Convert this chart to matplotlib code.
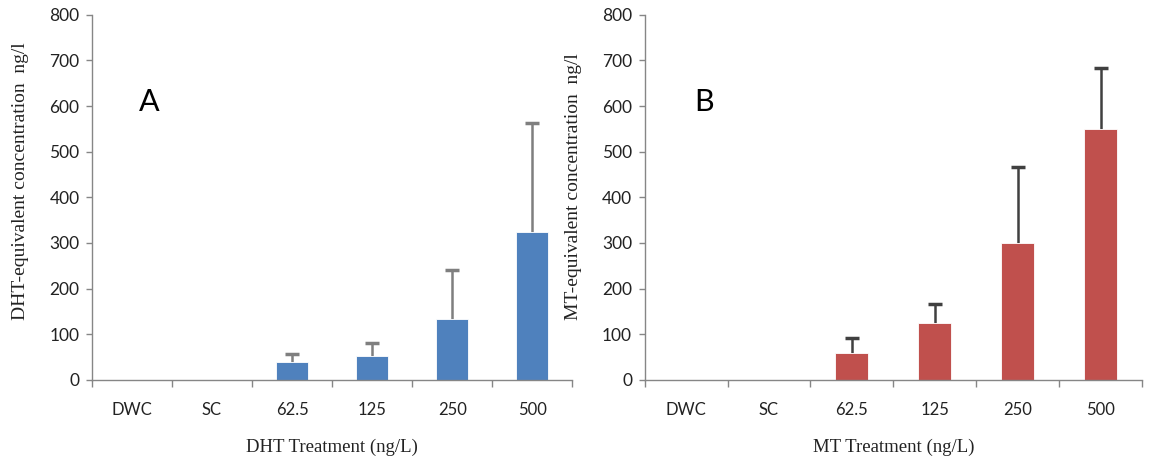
import matplotlib.pyplot as plt
import numpy as np

# treatment groups on the x axis
groups = ['DWC', 'SC', '62.5', '125', '250', '500']

# panel A: DHT-equivalent concentration (mean and upper SD)
dht_mean = [0, 0, 39, 53, 134, 325]
dht_sd = [0, 0, 18, 27, 107, 237]

# panel B: MT-equivalent concentration (mean and upper SD)
mt_mean = [0, 0, 59, 125, 300, 550]
mt_sd = [0, 0, 33, 41, 167, 134]

tick_font = ['Lato', 'DejaVu Sans']
label_font = ['Liberation Serif', 'DejaVu Serif']
axis_grey = '#868686'

fig = plt.figure(figsize=(11.49, 4.61), dpi=100)
ax_a = fig.add_axes([0.080, 0.176, 0.418, 0.792])
ax_b = fig.add_axes([0.561, 0.176, 0.433, 0.792])


def draw_panel(ax, mean, sd, color, err_color, letter, xlabel, ylabel):
    x = np.arange(len(groups))
    mean = np.array(mean, dtype=float)
    sd = np.array(sd, dtype=float)
    ax.bar(x, mean, width=0.4, color=color, edgecolor='white', linewidth=0.6, zorder=2)
    m = mean > 0
    eb = ax.errorbar(x[m], mean[m], yerr=[np.zeros(m.sum()), sd[m]], fmt='none',
                     ecolor=err_color, elinewidth=1.8, capsize=5, capthick=2.5, zorder=1)
    # only the upper cap is shown
    eb[1][0].set_visible(False)

    ax.set_xlim(-0.5, len(groups) - 0.5)
    ax.set_ylim(0, 800)
    ax.set_yticks(range(0, 801, 100))
    ax.set_xticks(x)
    ax.set_xticklabels(groups, family=tick_font, fontsize=12, color='#222222')
    ax.set_xticks(np.arange(-0.5, len(groups), 1), minor=True)
    ax.tick_params(axis='x', which='major', length=0, pad=16)
    ax.tick_params(axis='x', which='minor', length=5, color=axis_grey, width=1)
    ax.tick_params(axis='y', length=4, color=axis_grey, width=1, pad=5)
    for lab in ax.get_yticklabels():
        lab.set_family(tick_font)
        lab.set_fontsize(12.5)
        lab.set_color('#222222')

    for s in ['top', 'right']:
        ax.spines[s].set_visible(False)
    for s in ['left', 'bottom']:
        ax.spines[s].set_color(axis_grey)
        ax.spines[s].set_linewidth(1)

    ax.set_xlabel(xlabel, family=label_font, fontsize=13.5, labelpad=15, color='#222222')
    ax.set_ylabel(ylabel, family=label_font, fontsize=14, color='#222222')
    ax.text(0.12, 0.76, letter, transform=ax.transAxes, family=tick_font,
            fontsize=22, ha='center', va='center')


draw_panel(ax_a, dht_mean, dht_sd, '#4F81BD', '#7F7F7F', 'A',
           'DHT Treatment (ng/L)', 'DHT-equivalent concentration  ng/l')
draw_panel(ax_b, mt_mean, mt_sd, '#C0504D', '#404040', 'B',
           'MT Treatment (ng/L)', 'MT-equivalent concentration  ng/l')
ax_a.yaxis.set_label_coords(-0.13, 0.545)
ax_b.yaxis.set_label_coords(-0.125, 0.53)

fig.savefig('out.png', dpi=100)
